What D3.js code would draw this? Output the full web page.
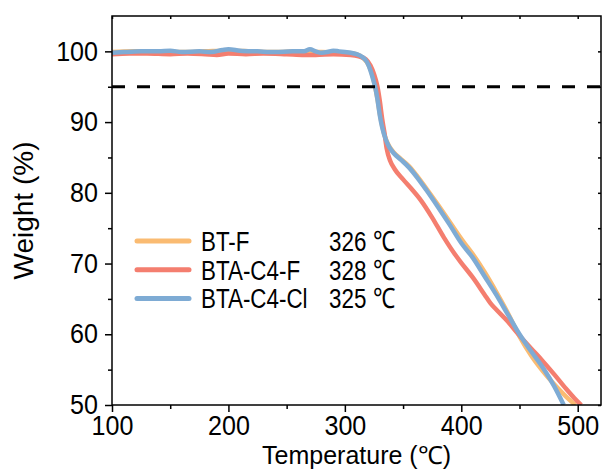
<!DOCTYPE html>
<html>
<head>
<meta charset="utf-8">
<script src="https://cdn.jsdelivr.net/npm/d3@7"></script>
<style>
  body { margin: 0; background: #fff; }
  text { font-family: "Liberation Sans", Arial, sans-serif; fill: #000; }
</style>
</head>
<body>
<div id="chart-area"></div>
<script>
// SVG size
var width = 603,
	height = 470;

// series names, colours and onset temperatures (5% loss)
var seriesNames = ["BT-F", "BTA-C4-F", "BTA-C4-Cl"];
var seriesColors = ["#FABB72", "#F47E6F", "#7EABD4"];
var onsetTemps = [326, 328, 325];

// TGA curves: [temperature (°C), weight (%)]
var btF = [[100,99.9],[120,100.0],[140,100.0],[160,99.9],[180,100.0],[200,100.1],[220,100.0],[240,99.9],[260,100.0],[280,99.9],[300,99.8],[310,99.6],[316,99.0],[320,98.2],[323,97.0],[326,95.0],[328,93.3],[330,91.2],[332,89.5],[335,87.7],[338,86.6],[342,85.7],[348,84.8],[355,83.8],[362,82.4],[370,80.6],[380,78.3],[390,75.9],[400,73.5],[405,72.4],[410,71.3],[420,68.8],[430,66.0],[440,63.0],[450,59.7],[460,57.0],[470,54.8],[480,52.9],[490,51.2],[498,50.0]];

var btaC4F = [[100,99.6],[115,99.7],[130,99.7],[150,99.6],[165,99.7],[180,99.6],[190,99.5],[200,99.7],[215,99.6],[230,99.7],[250,99.6],[265,99.5],[275,99.5],[290,99.6],[305,99.5],[312,99.3],[318,98.9],[322,98.0],[325,96.8],[328,95.0],[330,93.0],[332,90.5],[334,88.5],[336,86.2],[339,84.5],[343,83.3],[350,81.9],[357,80.6],[365,79.0],[375,76.5],[385,73.7],[395,71.2],[400,70.1],[410,68.0],[420,65.6],[425,64.4],[430,63.5],[440,61.8],[448,60.2],[460,58.0],[470,56.2],[480,54.3],[490,52.3],[497,51.0],[503,50.0]];

var btaC4Cl = [[100,99.8],[110,99.9],[125,100.0],[140,100.0],[150,100.1],[160,99.9],[175,100.0],[185,99.9],[195,100.2],[200,100.3],[210,100.1],[225,100.0],[240,99.9],[255,100.0],[265,100.0],[270,100.3],[275,100.0],[280,99.8],[285,99.9],[290,100.1],[295,100.0],[300,99.9],[305,99.8],[310,99.6],[315,99.2],[319,98.5],[322,97.3],[324,96.2],[326,95.0],[328,93.2],[330,91.0],[332,89.3],[335,87.6],[338,86.5],[342,85.6],[348,84.7],[355,83.6],[362,82.2],[370,80.4],[380,78.0],[390,75.5],[400,72.9],[410,70.8],[420,68.2],[430,65.6],[440,62.8],[450,60.0],[460,57.6],[470,55.3],[480,52.6],[488,50.0]];

var allSeries = [btF, btaC4F, btaC4Cl];

// axis ticks
var xTicks = [100, 200, 300, 400, 500];
var xMinorTicks = [150, 250, 350, 450];
var yTicks = [50, 60, 70, 80, 90, 100];
var yMinorTicks = [55, 65, 75, 85, 95];
var thresholdWeight = 95;

var margin = {left: 112, right: 2, top: 16, bottom: 65};
var plotW = width - margin.left - margin.right,
	plotH = height - margin.top - margin.bottom;

// squeeze text horizontally (the original face is condensed)
function narrow(k) {
	return function(sel) {
		sel.each(function() {
			var t = d3.select(this);
			var x = +t.attr("x") || 0;
			t.attr("x", x / k).attr("transform", "scale(" + k + ",1)");
		});
	};
}

var xScale = d3.scaleLinear().domain([100, 520]).range([0, plotW]);
var yScale = d3.scaleLinear().domain([50, 105]).range([plotH, 0]);

var svg = d3.select("#chart-area")
	.append("svg")
	.attr("width", width)
	.attr("height", height);

var g = svg.append("g")
	.attr("transform", "translate(" + margin.left + "," + margin.top + ")");

g.append("clipPath").attr("id", "clip")
	.append("rect").attr("width", plotW).attr("height", plotH);

// curves
var line = d3.line()
	.x(function(d) { return xScale(d[0]); })
	.y(function(d) { return yScale(d[1]); })
	.curve(d3.curveMonotoneX);

g.append("g").attr("clip-path", "url(#clip)")
	.selectAll("path")
	.data(allSeries)
	.enter()
	.append("path")
	.attr("d", line)
	.attr("fill", "none")
	.attr("stroke", function(d, i) { return seriesColors[i]; })
	.attr("stroke-width", 4.5)
	.attr("stroke-linejoin", "round");

// 95 % line
g.append("line")
	.attr("x1", 0).attr("x2", plotW)
	.attr("y1", yScale(thresholdWeight)).attr("y2", yScale(thresholdWeight))
	.attr("stroke", "#000")
	.attr("stroke-width", 3)
	.attr("stroke-dasharray", "13,12");

// axes
function styleAxis(sel) {
	sel.select(".domain").remove();
	sel.selectAll("line").attr("stroke", "#000").attr("stroke-width", 1.5);
}

var xAxis = g.append("g")
	.attr("transform", "translate(0," + plotH + ")")
	.call(d3.axisBottom(xScale).tickValues(xTicks).tickSize(7).tickPadding(4).tickFormat(d3.format("d")));
xAxis.call(styleAxis);
xAxis.selectAll("text").attr("font-size", 27).call(narrow(0.93));

g.append("g")
	.attr("transform", "translate(0," + plotH + ")")
	.call(d3.axisBottom(xScale).tickValues(xMinorTicks).tickSize(4).tickFormat(""))
	.call(styleAxis);

var yAxis = g.append("g")
	.call(d3.axisLeft(yScale).tickValues(yTicks).tickSize(7).tickPadding(7).tickFormat(d3.format("d")));
yAxis.call(styleAxis);
yAxis.selectAll("text").attr("font-size", 27).call(narrow(0.93));

g.append("g")
	.call(d3.axisLeft(yScale).tickValues(yMinorTicks).tickSize(4).tickFormat(""))
	.call(styleAxis);

// mirror ticks on top and right, pointing in
g.append("g")
	.call(d3.axisTop(xScale).tickValues(xTicks.concat(xMinorTicks)).tickSize(-3).tickFormat(""))
	.call(styleAxis);
g.append("g")
	.attr("transform", "translate(" + plotW + ",0)")
	.call(d3.axisRight(yScale).tickValues(yTicks.concat(yMinorTicks)).tickSize(-3).tickFormat(""))
	.call(styleAxis);

// frame
g.append("rect")
	.attr("width", plotW).attr("height", plotH)
	.attr("fill", "none")
	.attr("stroke", "#000")
	.attr("stroke-width", 1.5);

// axis titles
svg.append("text")
	.attr("x", margin.left + plotW / 2)
	.attr("y", 464)
	.attr("text-anchor", "middle")
	.attr("font-size", 25)
	.text("Temperature (℃)");

svg.append("text")
	.attr("transform", "translate(33," + (margin.top + plotH / 2) + ") rotate(-90)")
	.attr("text-anchor", "middle")
	.attr("font-size", 28)
	.text("Weight (%)");

// legend
var legend = svg.selectAll(".legend")
	.data(seriesNames)
	.enter()
	.append("g")
	.attr("class", "legend")
	.attr("transform", function(d, i) { return "translate(137," + (241 + i * 28.7) + ")"; });

legend.append("line")
	.attr("x1", 0).attr("x2", 52)
	.attr("stroke", function(d, i) { return seriesColors[i]; })
	.attr("stroke-width", 5)
	.attr("stroke-linecap", "round");

legend.append("text")
	.attr("x", 64).attr("y", 10)
	.attr("font-size", 28)
	.text(function(d) { return d; })
	.call(narrow(0.8));

legend.append("text")
	.attr("x", 192).attr("y", 10)
	.attr("font-size", 28)
	.text(function(d, i) { return onsetTemps[i] + " ℃"; })
	.call(narrow(0.8));
</script>
</body>
</html>
